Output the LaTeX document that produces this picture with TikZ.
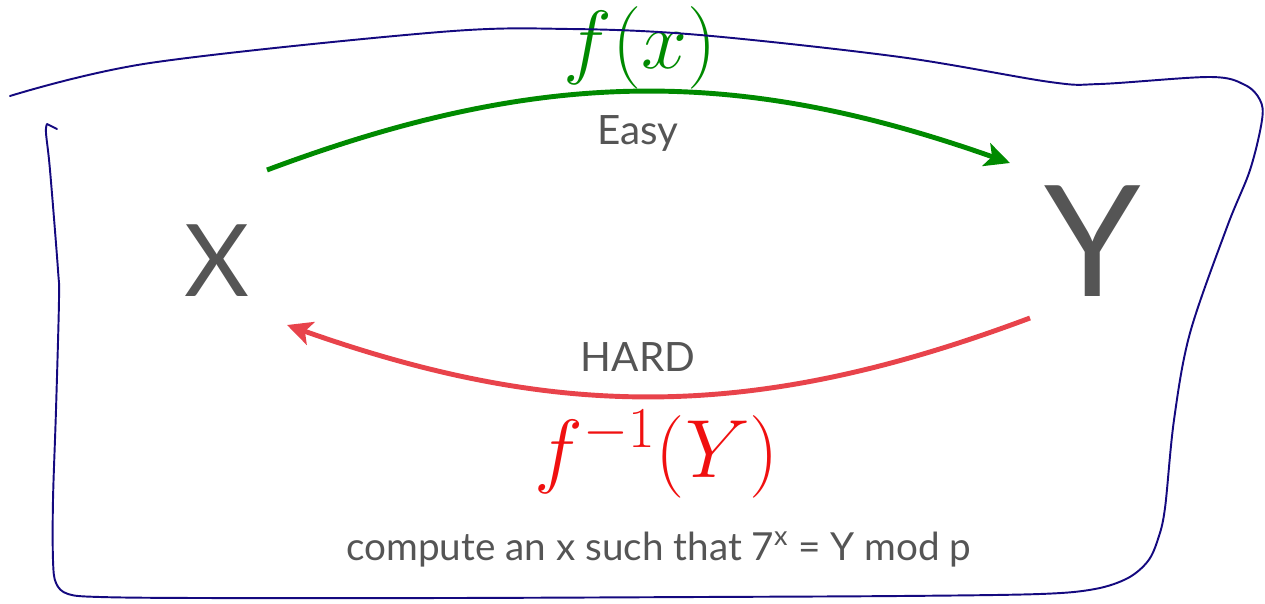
\RequirePackage{fix-cm}
\documentclass[tikz,border=0pt]{standalone}
\usepackage[no-math]{fontspec}
\setmainfont{Lato}
\usepackage{amsmath}
\usetikzlibrary{arrows.meta, positioning}
\definecolor{inkgray}{HTML}{555555}
\definecolor{easygreen}{HTML}{008A00}
\definecolor{hardred}{HTML}{E8434B}
\definecolor{fred}{HTML}{F01010}
\definecolor{penblue}{HTML}{14097F}

\begin{document}
\begin{tikzpicture}[x=0.02cm, y=0.02cm,
    var/.style={inkgray, inner sep=0pt},
    lbl/.style={inkgray, font=\fontsize{23}{26}\selectfont, inner sep=0pt, anchor=base},
    fn/.style={font=\fontsize{47}{50}\selectfont, inner sep=0pt, anchor=base},
    arr/.style={-{Stealth[length=5mm, width=4.8mm, inset=1.2mm]}, line width=2.8pt},
    pen/.style={penblue, line width=1.1pt, line join=round, line cap=round},
]
\useasboundingbox (0,0) rectangle (1265,603);

\node[var, font=\fontsize{57}{60}\selectfont] (x) at (217,342) {X};
\node[var, font=\fontsize{88}{90}\selectfont] (y) at (1093,362) {Y};

\node[lbl] (easy) at (638,459) {Easy};
\node[lbl] (hard) at (638,232) {HARD};
\node[fn, easygreen] (fx) at (640,534) {$f(x)$};
\node[fn, fred] (finv) at (657,126) {$f^{-1}(Y)$};
\node[inkgray, font=\fontsize{22}{25}\selectfont, inner sep=0pt, anchor=base] (task) at (659,43)
    {compute an x such that 7\textsuperscript{x} = Y mod p};

% arrow ends near X and Y
\coordinate (xout) at (267,433);
\coordinate (yin)  at (1010,440);
\coordinate (yout) at (1030,285);
\coordinate (xin)  at (287,278);

\draw[arr, easygreen] (xout) to[bend left=20] (yin);
\draw[arr, hardred]   (yout) to[bend left=20] (xin);

% hand drawn frame
\draw[pen] (57,474) -- (47,479)
  plot[smooth, tension=0.55] coordinates {
    (47,479) (46,470) (50,433) (58,333) (59,303) (56,193) (53,103)
    (53,43) (56,20) (68,9) (100,6) (200,5) (450,5) (700,6) (900,7)
    (1040,9) (1095,14) (1128,25) (1148,42) (1158,64) (1165,95)
    (1174,183) (1190,270)
    (1227,376) (1250,433) (1262,483) (1260,503) (1245,518) (1210,526)
    (1100,519) (1050,521) (900,546) (700,568) (570,574) (440,571)
    (150,540) (10,507)};
\end{tikzpicture}
\end{document}
